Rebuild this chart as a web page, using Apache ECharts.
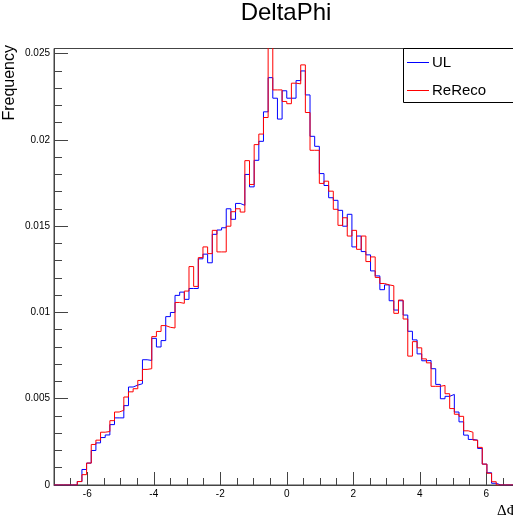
<!DOCTYPE html>
<html>
<head>
<meta charset="utf-8">
<script src="https://cdn.jsdelivr.net/npm/echarts@6/dist/echarts.min.js"></script>
<style>
html,body{margin:0;padding:0;background:#fff;}
#chart{width:513px;height:517px;}
</style>
</head>
<body>
<div id="chart"></div>
<script>
// Histogram binning (100 bins from -7 to 7)
const binLow = -7;
const binHigh = 7;
const nBins = 100;

// Bin contents (bins 0..99)
const ulValues = [
  0,0,0,0,0,
  0.0002,0.0009,0.00127,0.0020,0.00244,0.00275,0.0029,0.0035,0.00389,0.00389,
  0.0046,0.00568,0.00579,0.00587,0.00726,0.00722,0.0085,0.0080,0.00837,0.00976,
  0.0100,0.01099,0.01118,0.01076,0.01139,0.01139,0.01311,0.01338,0.01288,0.01453,
  0.01478,0.01491,0.01601,0.0154,0.01632,0.01621,0.0180,0.01728,0.01882,0.01992,
  0.02163,0.02361,0.02242,0.02121,0.02285,0.02242,0.02242,0.02344,0.0240,0.02261,
  0.02021,0.01963,0.01805,0.01736,0.01665,0.0165,0.01592,0.0150,0.01569,0.0138,
  0.01443,0.01353,0.01334,0.01241,0.01212,0.01132,0.0116,0.01068,0.01014,0.01068,
  0.00985,0.00891,0.00841,0.0076,0.0072,0.00722,0.00674,0.00583,0.0050,0.00514,
  0.00525,0.00423,0.00366,0.00289,0.00264,0.0026,0.00212,0.00121,0.00071,0.0001,
  0,0,0,0,0
];
const rerecoValues = [
  0,0,0,0,0,
  0.0002,0.0006,0.00127,0.00235,0.0026,0.00306,0.0031,0.00373,0.00423,0.00433,
  0.0051,0.0054,0.00558,0.00606,0.0067,0.00674,0.0086,0.0089,0.00924,0.00914,
  0.0091,0.01058,0.01053,0.01124,0.01266,0.01151,0.01318,0.0138,0.01341,0.01476,
  0.01351,0.01351,0.0150,0.01584,0.01601,0.01582,0.0188,0.01742,0.01973,0.02034,
  0.0213,0.0265,0.0229,0.0229,0.02223,0.0221,0.02329,0.02325,0.02435,0.02159,
  0.0194,0.0194,0.01748,0.01761,0.01703,0.01598,0.01505,0.01549,0.01443,0.01476,
  0.01366,0.01443,0.01295,0.01322,0.01203,0.01168,0.0116,0.01155,0.00995,0.01072,
  0.00962,0.00747,0.00831,0.00795,0.00731,0.00708,0.00572,0.00572,0.00577,0.00529,
  0.00443,0.0041,0.00398,0.00314,0.00306,0.0026,0.00218,0.00121,0.00068,0.00019,
  0,0,0,0,0
];

const xMajorTicks = [-6,-4,-2,0,2,4,6];
const seriesNames = ['UL','ReReco'];
const titleText = 'DeltaPhi';
const yTitle = 'Frequency';
const xTitle = '\u0394\u03A6';

function stepData(vals){
  const w = (binHigh - binLow) / nBins;
  const out = [];
  for (let i = 0; i < vals.length; i++) out.push([binLow + i * w, vals[i]]);
  out.push([binHigh, vals[vals.length - 1]]);
  return out;
}

const FONT = "'Liberation Sans', Arial, Helvetica, sans-serif";
const AX = '#444';
const chart = echarts.init(document.getElementById('chart'), null, {renderer:'canvas'});
chart.setOption({
  animation: false,
  backgroundColor: '#fff',
  grid: {left: 54, top: 48.5, width: 465.5, height: 436.5, show: true, borderColor: AX, borderWidth: 1, containLabel: false, outerBoundsMode: 'none'},
  xAxis: [
    {
      type: 'value', min: binLow, max: binHigh, interval: 0.5,
      axisLine: {show: true, onZero: false, lineStyle: {color: AX, width: 1}},
      axisTick: {show: true, inside: true, length: 7, lineStyle: {color: AX}},
      axisLabel: {
        interval: 0, fontSize: 10, color: '#000', fontFamily: FONT, margin: 4,
        formatter: function(v){ const r = Math.round(v); return (Math.abs(v - r) < 1e-6 && r % 2 === 0 && r > -7 && r < 7) ? String(r) : ''; }
      },
      splitLine: {show: false}
    },
    {
      type: 'value', min: binLow, max: binHigh, position: 'bottom',
      axisLine: {show: false, onZero: false},
      axisTick: {show: true, inside: true, length: 13, customValues: xMajorTicks, lineStyle: {color: AX}},
      axisLabel: {show: false},
      splitLine: {show: false}
    }
  ],
  yAxis: {
    type: 'value', min: 0, max: 0.0253, interval: 0.005, position: 'left',
    axisLine: {show: true, onZero: false, lineStyle: {color: AX, width: 1}},
    axisTick: {show: true, inside: true, length: 14, lineStyle: {color: AX}},
    minorTick: {show: true, splitNumber: 5, length: 8, lineStyle: {color: AX}},
    axisLabel: {
      fontSize: 10, color: '#000', fontFamily: FONT, margin: 4,
      formatter: function(v){ const k = v / 0.005; return Math.abs(k - Math.round(k)) < 1e-6 ? String(+v.toFixed(4)) : ''; }
    },
    splitLine: {show: false}
  },
  series: [
    {name: seriesNames[0], type: 'line', step: 'end', symbol: 'none', clip: true,
     lineStyle: {color: '#0000ff', width: 1}, data: stepData(ulValues), z: 3},
    {name: seriesNames[1], type: 'line', step: 'end', symbol: 'none', clip: true,
     lineStyle: {color: '#ff0000', width: 1}, data: stepData(rerecoValues), z: 4}
  ],
  graphic: [
    {type: 'text', x: 286, y: 13, z: 10, style: {text: titleText, font: '24px ' + FONT, fill: '#000', textAlign: 'center', textVerticalAlign: 'middle'}},
    {type: 'text', x: 10, y: 45, rotation: Math.PI / 2, z: 10, style: {text: yTitle, font: '16px ' + FONT, fill: '#000', textAlign: 'right', textVerticalAlign: 'middle'}},
    {type: 'text', x: 497, y: 511, z: 10, style: {text: xTitle, font: "15px 'Liberation Serif', 'DejaVu Serif', serif", fill: '#000', textAlign: 'left', textVerticalAlign: 'middle'}},
    {type: 'rect', z: 10, shape: {x: 403.5, y: 48.5, width: 130, height: 54}, style: {fill: '#fff', stroke: '#000', lineWidth: 1}},
    {type: 'line', z: 11, shape: {x1: 407, y1: 62.5, x2: 429, y2: 62.5}, style: {stroke: '#0000ff', lineWidth: 1}},
    {type: 'line', z: 11, shape: {x1: 407, y1: 90.5, x2: 429, y2: 90.5}, style: {stroke: '#ff0000', lineWidth: 1}},
    {type: 'text', x: 432, y: 63, z: 11, style: {text: seriesNames[0], font: '15px ' + FONT, fill: '#000', textAlign: 'left', textVerticalAlign: 'middle'}},
    {type: 'text', x: 432, y: 91, z: 11, style: {text: seriesNames[1], font: '15px ' + FONT, fill: '#000', textAlign: 'left', textVerticalAlign: 'middle'}}
  ]
});
</script>
</body>
</html>
